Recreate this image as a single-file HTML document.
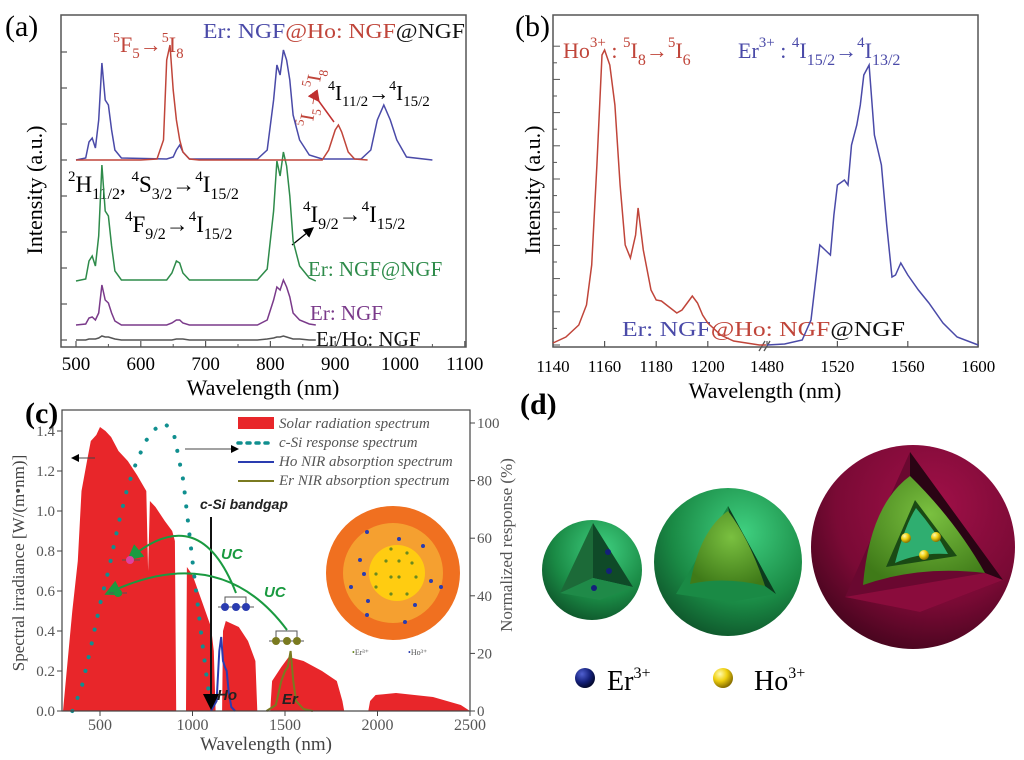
<!DOCTYPE html>
<html><head><meta charset="utf-8"><style>
html,body{margin:0;padding:0;background:#fff;}
svg{display:block;font-family:"Liberation Serif",serif;}
.sans{font-family:"Liberation Sans",sans-serif;}
</style></head><body>
<svg id="fig" width="1024" height="760" viewBox="0 0 1024 760">
<defs>
<radialGradient id="gGreen" cx="0.6" cy="0.3" r="0.8"><stop offset="0" stop-color="#3fd080"/><stop offset="0.6" stop-color="#1a8a45"/><stop offset="1" stop-color="#0c4a25"/></radialGradient>
<radialGradient id="gCore" cx="0.55" cy="0.35" r="0.7"><stop offset="0" stop-color="#7ac040"/><stop offset="1" stop-color="#3f7a18"/></radialGradient>
<radialGradient id="gRed" cx="0.6" cy="0.3" r="0.8"><stop offset="0" stop-color="#a01048"/><stop offset="0.6" stop-color="#7a0a35"/><stop offset="1" stop-color="#3a0418"/></radialGradient>
<radialGradient id="gYel" cx="0.35" cy="0.3" r="0.7"><stop offset="0" stop-color="#fffbb0"/><stop offset="0.5" stop-color="#f0d010"/><stop offset="1" stop-color="#8a7000"/></radialGradient>
<radialGradient id="gBlue" cx="0.35" cy="0.3" r="0.7"><stop offset="0" stop-color="#5060d0"/><stop offset="0.6" stop-color="#14207a"/><stop offset="1" stop-color="#050a30"/></radialGradient>
<marker id="ah" markerWidth="8" markerHeight="8" refX="7" refY="4" orient="auto"><path d="M0,0 L8,4 L0,8 z" fill="#000"/></marker>
<marker id="ahg" markerWidth="8" markerHeight="8" refX="6" refY="4" orient="auto"><path d="M0,0 L8,4 L0,8 z" fill="#1a9a40"/></marker>
<marker id="ahr" markerWidth="8" markerHeight="8" refX="6" refY="4" orient="auto"><path d="M0,0 L8,4 L0,8 z" fill="#c03030"/></marker>
</defs>

<!-- ===== Panel A ===== -->
<g id="pa">
<text x="5" y="36" font-size="30">(a)</text>
<rect x="61" y="15" width="405" height="332" fill="none" stroke="#555" stroke-width="1.5"/>
<text x="263" y="395" font-size="22" text-anchor="middle">Wavelength (nm)</text>
<text transform="translate(42,190) rotate(-90)" font-size="22" text-anchor="middle">Intensity (a.u.)</text>
<text x="203" y="38" font-size="21" textLength="262" lengthAdjust="spacingAndGlyphs"><tspan fill="#4a4aa8">Er: NGF</tspan><tspan fill="#c0453a">@Ho: NGF</tspan><tspan fill="#111">@NGF</tspan></text>
<text x="113" y="52" fill="#c0453a" font-size="22"><tspan font-size="14" dy="-10">5</tspan><tspan dy="10">F</tspan><tspan font-size="15" dy="6">5</tspan><tspan dy="-6">→</tspan><tspan font-size="14" dy="-10">5</tspan><tspan dy="10">I</tspan><tspan font-size="15" dy="6">8</tspan></text>
<text transform="translate(312,128) rotate(-80)" fill="#c0453a" font-size="20"><tspan font-size="13" dy="-9">5</tspan><tspan dy="9">I</tspan><tspan font-size="13" dy="6">5</tspan><tspan dy="-6">→</tspan><tspan font-size="13" dy="-9">5</tspan><tspan dy="9">I</tspan><tspan font-size="13" dy="6">8</tspan></text>
<line x1="318" y1="100" x2="334" y2="122" stroke="#c03030" stroke-width="1.5" marker-start="url(#ahr)"/>
<text x="328" y="100" font-size="21"><tspan font-size="14" dy="-10">4</tspan><tspan dy="10">I</tspan><tspan font-size="15" dy="6">11/2</tspan><tspan dy="-6">→</tspan><tspan font-size="14" dy="-10">4</tspan><tspan dy="10">I</tspan><tspan font-size="15" dy="6">15/2</tspan></text>
<text x="68" y="192" font-size="23"><tspan font-size="15" dy="-11">2</tspan><tspan dy="11">H</tspan><tspan font-size="16" dy="7">11/2</tspan><tspan dy="-7">, </tspan><tspan font-size="15" dy="-11">4</tspan><tspan dy="11">S</tspan><tspan font-size="16" dy="7">3/2</tspan><tspan dy="-7">→</tspan><tspan font-size="15" dy="-11">4</tspan><tspan dy="11">I</tspan><tspan font-size="16" dy="7">15/2</tspan></text>
<text x="125" y="232" font-size="23"><tspan font-size="15" dy="-11">4</tspan><tspan dy="11">F</tspan><tspan font-size="16" dy="7">9/2</tspan><tspan dy="-7">→</tspan><tspan font-size="15" dy="-11">4</tspan><tspan dy="11">I</tspan><tspan font-size="16" dy="7">15/2</tspan></text>
<text x="303" y="222" font-size="23"><tspan font-size="15" dy="-11">4</tspan><tspan dy="11">I</tspan><tspan font-size="16" dy="7">9/2</tspan><tspan dy="-7">→</tspan><tspan font-size="15" dy="-11">4</tspan><tspan dy="11">I</tspan><tspan font-size="16" dy="7">15/2</tspan></text>
<line x1="292" y1="245" x2="313" y2="228" stroke="#000" stroke-width="1.3" marker-end="url(#ah)"/>
<text x="308" y="276" font-size="21" fill="#2e8b4a">Er: NGF@NGF</text>
<text x="310" y="320" font-size="21" fill="#7a3a8a">Er: NGF</text>
<text x="316" y="346" font-size="21" fill="#111">Er/Ho: NGF</text>
<g id="paAxes"></g><g id="paCurves"></g>
</g>

<!-- ===== Panel B ===== -->
<g id="pb">
<text x="515" y="36" font-size="30">(b)</text>
<rect x="553" y="15" width="425" height="332" fill="none" stroke="#555" stroke-width="1.5"/>
<text x="765" y="398" font-size="22" text-anchor="middle">Wavelength (nm)</text>
<text transform="translate(540,190) rotate(-90)" font-size="22" text-anchor="middle">Intensity (a.u.)</text>
<text x="563" y="58" font-size="22" fill="#c0453a">Ho<tspan font-size="15" dy="-11">3+</tspan><tspan dy="11"> : </tspan><tspan font-size="15" dy="-11">5</tspan><tspan dy="11">I</tspan><tspan font-size="16" dy="7">8</tspan><tspan dy="-7">→</tspan><tspan font-size="15" dy="-11">5</tspan><tspan dy="11">I</tspan><tspan font-size="16" dy="7">6</tspan></text>
<text x="738" y="58" font-size="22" fill="#4a4aa8">Er<tspan font-size="15" dy="-11">3+</tspan><tspan dy="11"> : </tspan><tspan font-size="15" dy="-11">4</tspan><tspan dy="11">I</tspan><tspan font-size="16" dy="7">15/2</tspan><tspan dy="-7">→</tspan><tspan font-size="15" dy="-11">4</tspan><tspan dy="11">I</tspan><tspan font-size="16" dy="7">13/2</tspan></text>
<text x="622" y="336" font-size="21" textLength="283" lengthAdjust="spacingAndGlyphs"><tspan fill="#4a4aa8">Er: NGF</tspan><tspan fill="#c0453a">@Ho: NGF</tspan><tspan fill="#111">@NGF</tspan></text>
<g id="pbAxes"></g><g id="pbCurves"></g>
</g>

<!-- ===== Panel C ===== -->
<g id="pc">
<g id="pcCurves"></g>
<text x="25" y="423" font-size="30" font-weight="bold">(c)</text>
<rect x="62" y="410" width="408" height="301" fill="none" stroke="#444" stroke-width="1.2"/>
<text x="266" y="750" font-size="19" text-anchor="middle" fill="#444">Wavelength (nm)</text>
<text transform="translate(24,563) rotate(-90)" font-size="17" text-anchor="middle" fill="#444">Spectral irradiance [W/(m•nm)]</text>
<text transform="translate(512,545) rotate(-90)" font-size="17" text-anchor="middle" fill="#555">Normalized response (%)</text>
<g id="pcAxes"></g>
<g>
<rect x="238" y="417" width="36" height="12" fill="#e8262a"/>
<text x="279" y="428" font-size="15" font-style="italic" fill="#555">Solar radiation spectrum</text>
<line x1="238" y1="443" x2="274" y2="443" stroke="#108f8f" stroke-width="3.5" stroke-dasharray="3,6" stroke-linecap="round"/>
<text x="279" y="447" font-size="15" font-style="italic" fill="#555">c-Si response spectrum</text>
<line x1="238" y1="462" x2="274" y2="462" stroke="#2a3cb0" stroke-width="2"/>
<text x="279" y="466" font-size="15" font-style="italic" fill="#555">Ho NIR absorption spectrum</text>
<line x1="238" y1="481" x2="274" y2="481" stroke="#7a7a20" stroke-width="2"/>
<text x="279" y="485" font-size="15" font-style="italic" fill="#555">Er NIR absorption spectrum</text>
</g>
<line x1="95" y1="458" x2="72" y2="458" stroke="#444" stroke-width="1" marker-end="url(#ah)"/>
<line x1="185" y1="449" x2="238" y2="449" stroke="#444" stroke-width="1" marker-end="url(#ah)"/>
<line x1="211" y1="517" x2="211" y2="708" stroke="#111" stroke-width="2" marker-end="url(#ah)"/>
<text x="200" y="509" font-size="14" font-weight="bold" font-style="italic" class="sans" fill="#222">c-Si bandgap</text>
<path d="M236,593 Q200,500 130,558" fill="none" stroke="#1a9a40" stroke-width="2" marker-end="url(#ahg)"/>
<path d="M287,630 Q220,540 108,593" fill="none" stroke="#1a9a40" stroke-width="2" marker-end="url(#ahg)"/>
<text x="221" y="559" font-size="15" font-weight="bold" font-style="italic" class="sans" fill="#1a9a40">UC</text>
<text x="264" y="597" font-size="15" font-weight="bold" font-style="italic" class="sans" fill="#1a9a40">UC</text>
<line x1="122" y1="560" x2="140" y2="560" stroke="#555"/>
<circle cx="130" cy="560" r="4" fill="#e040a0"/>
<line x1="109" y1="593" x2="127" y2="593" stroke="#555"/>
<circle cx="118" cy="593" r="4" fill="#1a9a40"/>
<path d="M225,603 V597 H246 V603 M218,607 H254" fill="none" stroke="#555"/>
<circle cx="225" cy="607" r="4" fill="#2a3cb0"/><circle cx="236" cy="607" r="4" fill="#2a3cb0"/><circle cx="246" cy="607" r="4" fill="#2a3cb0"/>
<path d="M276,637 V631 H297 V637 M269,641 H304" fill="none" stroke="#555"/>
<circle cx="276" cy="641" r="4" fill="#7a7a20"/><circle cx="287" cy="641" r="4" fill="#7a7a20"/><circle cx="297" cy="641" r="4" fill="#7a7a20"/>
<text x="217" y="700" font-size="15" font-weight="bold" font-style="italic" class="sans" fill="#222">Ho</text>
<text x="282" y="704" font-size="15" font-weight="bold" font-style="italic" class="sans" fill="#222">Er</text>
<g>
<circle cx="393" cy="573" r="67" fill="#f07020"/>
<circle cx="393" cy="573" r="50" fill="#f5a030"/>
<circle cx="397" cy="573" r="28" fill="#ffcc11"/>
<g fill="#2a3cb0"><circle cx="367" cy="532" r="2"/><circle cx="399" cy="539" r="2"/><circle cx="423" cy="546" r="2"/><circle cx="360" cy="560" r="2"/><circle cx="364" cy="574" r="2"/><circle cx="431" cy="581" r="2"/><circle cx="351" cy="587" r="2"/><circle cx="441" cy="587" r="2"/><circle cx="368" cy="601" r="2"/><circle cx="415" cy="605" r="2"/><circle cx="367" cy="615" r="2"/><circle cx="405" cy="622" r="2"/></g>
<g fill="#6a8a20"><circle cx="391" cy="549" r="1.6"/><circle cx="407" cy="553" r="1.6"/><circle cx="386" cy="561" r="1.6"/><circle cx="399" cy="561" r="1.6"/><circle cx="412" cy="563" r="1.6"/><circle cx="376" cy="574" r="1.6"/><circle cx="391" cy="577" r="1.6"/><circle cx="399" cy="577" r="1.6"/><circle cx="416" cy="577" r="1.6"/><circle cx="376" cy="587" r="1.6"/><circle cx="391" cy="594" r="1.6"/><circle cx="407" cy="594" r="1.6"/></g>
<text x="352" y="655" font-size="8" fill="#555"><tspan fill="#6a8a20">•</tspan>Er³⁺</text>
<text x="408" y="655" font-size="8" fill="#555"><tspan fill="#2a3cb0">•</tspan>Ho³⁺</text>
</g>
</g>

<!-- ===== Panel D ===== -->
<g id="pd">
<text x="520" y="414" font-size="30" font-weight="bold">(d)</text>
<g>
<circle cx="592" cy="570" r="50" fill="url(#gGreen)"/>
<polygon points="560,593 593,523 593,578" fill="#1c6a38"/>
<polygon points="593,523 633,587 593,578" fill="#0f4a28"/>
<polygon points="560,593 593,578 633,587 600,600" fill="#1f8a48"/>
<circle cx="608" cy="552" r="3" fill="#14207a"/><circle cx="609" cy="571" r="3" fill="#14207a"/><circle cx="594" cy="588" r="3" fill="#14207a"/>
</g>
<g>
<circle cx="728" cy="562" r="74" fill="url(#gGreen)"/>
<polygon points="676,594 728,506 776,594 730,602" fill="#1a8a45"/>
<polygon points="728,506 776,594 765,586 730,518" fill="#0c3a1e"/>
<path d="M690,584 Q700,530 728,511 Q750,540 765,586 Q725,576 690,584 z" fill="url(#gCore)"/>
</g>
<g>
<circle cx="913" cy="547" r="102" fill="url(#gRed)"/>
<polygon points="845,597 910,452 1003,580 920,612" fill="#6a0830"/>
<polygon points="910,452 1003,580 985,573 910,480" fill="#2a0414"/>
<polygon points="845,597 985,573 1003,580 920,612" fill="#8a0c3c"/>
<path d="M863,585 Q870,505 910,476 Q955,520 985,573 Q920,565 863,585 z" fill="url(#gCore)"/>
<polygon points="886,567 915,500 957,556" fill="#1a4a14"/>
<path d="M895,563 Q905,525 916,508 Q935,530 948,554 Q920,552 895,563 z" fill="#2fae70"/>
<circle cx="906" cy="538" r="5" fill="url(#gYel)"/><circle cx="936" cy="537" r="5" fill="url(#gYel)"/><circle cx="924" cy="555" r="5" fill="url(#gYel)"/>
</g>
<circle cx="585" cy="678" r="10" fill="url(#gBlue)"/>
<text x="607" y="690" font-size="28">Er<tspan font-size="16" dy="-12">3+</tspan></text>
<circle cx="723" cy="678" r="10" fill="url(#gYel)"/>
<text x="754" y="690" font-size="28">Ho<tspan font-size="16" dy="-12">3+</tspan></text>
</g>
</svg>
<script>
// ---------- data: panel a ----------
const aBlueW=[500,515,520,525,530,535,540,545,550,555,560,570,640,650,655,660,665,675,780,795,805,810,815,820,825,830,835,845,860,880,940,955,965,975,985,995,1010,1050];
const aBlueV=[0,2,18,22,12,40,97,60,55,30,10,2,1,3,10,15,8,1,1,10,60,95,85,110,100,80,45,20,5,1,1,10,40,55,40,20,3,0];
const aRedW=[500,600,625,635,640,645,650,655,660,665,675,690,880,890,900,905,910,920,930,950];
const aRedV=[0,0,1,20,100,115,70,40,20,8,1,0,0,10,30,35,28,8,1,0];
const aGreenW=[500,515,520,525,530,535,540,545,550,555,560,570,640,648,655,660,665,675,780,795,805,810,815,820,825,830,835,845,860,870];
const aGreenV=[0,2,20,25,15,45,116,70,65,35,10,1,1,8,20,18,8,1,1,12,70,120,105,129,115,85,40,15,3,0];
const aPurpleV=[0,1,7,8,5,12,40,25,22,12,4,0,0,2,5,5,2,0,0,5,25,38,35,45,38,28,12,5,1,0];
const aBlackV=[0,0,1,1,1,2,4,3,3,2,1,0,0,0,1,1,1,0,0,1,2,3,3,4,3,2,1,1,0,0];
const aXTicks=[500,600,700,800,900,1000,1100];
// ---------- data: panel b ----------
const bRedW=[1140,1145,1150,1153,1155,1157,1159,1160,1162,1164,1166,1168,1170,1172,1173,1175,1178,1180,1182,1185,1188,1190,1192,1194,1196,1198,1200,1205,1210,1220];
const bRedV=[2,8,20,40,80,180,290,295,280,240,160,100,87,110,137,95,55,45,44,38,32,35,42,49,42,30,22,10,4,0];
const bBlueW=[1480,1490,1500,1505,1508,1510,1513,1516,1518,1520,1524,1526,1528,1531,1533,1535,1538,1541,1545,1548,1551,1553,1556,1560,1566,1572,1580,1588,1600];
const bBlueV=[0,1,5,25,70,100,95,90,130,160,165,160,200,220,240,270,280,210,180,120,68,70,82,70,55,42,22,8,0];
const bXTicks=[1140,1160,1180,1200,1480,1520,1560,1600];
// ---------- data: panel c ----------
const solarW=[300,320,350,380,400,430,450,480,500,530,560,600,650,700,750,760,770,800,850,890,905,912,965,970,1000,1050,1100,1115,1125,1160,1165,1180,1250,1300,1340,1350,1420,1430,1480,1520,1600,1700,1780,1810,1820,1950,1960,1990,2100,2300,2450,2500];
const solarV=[0,0.2,0.5,0.75,1.1,1.25,1.35,1.38,1.42,1.4,1.37,1.3,1.25,1.18,1.1,0.7,1.05,1.02,0.95,0.9,0.85,0,0,0.72,0.68,0.55,0.42,0.3,0,0,0.4,0.45,0.42,0.35,0.25,0,0,0.15,0.22,0.27,0.25,0.2,0.15,0.05,0,0,0.05,0.08,0.09,0.07,0.03,0];
const csiW=[350,400,450,500,550,600,650,700,750,800,850,900,950,1000,1050,1080,1100];
const csiV=[0,8,22,37,50,65,78,87,94,98,100,96,80,52,25,10,2];
const hoW=[1100,1130,1145,1155,1165,1175,1185,1195,1210,1230];
const hoV=[0,0.05,0.3,0.37,0.25,0.22,0.2,0.1,0.02,0];
const erW=[1400,1450,1480,1500,1515,1530,1545,1560,1600,1650];
const erV=[0,0.03,0.15,0.2,0.22,0.3,0.15,0.05,0.01,0];
const cXTicks=[500,1000,1500,2000,2500];
const cYTicks=[0,0.2,0.4,0.6,0.8,1.0,1.2,1.4];
const cRTicks=[0,20,40,60,80,100];

const NS='http://www.w3.org/2000/svg';
function mk(tag,attrs,parent){const e=document.createElementNS(NS,tag);for(const k in attrs)e.setAttribute(k,attrs[k]);parent.appendChild(e);return e;}
function pathD(ws,vs,fx,fy){return ws.map((w,i)=>(i?'L':'M')+fx(w).toFixed(1)+','+fy(vs[i]).toFixed(1)).join(' ');}

const xa=w=>76+(w-500)*0.648;
const xb=w=>w<=1300?553+(w-1140)*2.58:767+(w-1480)*1.76;
const yb=v=>345-v;
const xc=w=>63+(w-300)*0.185;
const ycL=v=>711-v*200;
const ycR=p=>711-p*2.88;

const paAx=document.getElementById('paAxes');
aXTicks.forEach(t=>{
  const l=mk('line',{x1:xa(t),x2:xa(t),y1:347,y2:341,stroke:'#555','stroke-width':1.2},paAx);
  
  
  const tx=mk('text',{x:xa(t),y:370,'font-size':19,'text-anchor':'middle'},paAx);
  tx.textContent=t;
  
  
  if(t<1100){const m=mk('line',{x1:xa(t+50),x2:xa(t+50),y1:347,y2:344,stroke:'#555'},paAx);
  
  }
});
for(let i=0;i<9;i++){const y=340-36*i;
  const l=mk('line',{x1:61,x2:67,y1:y,y2:y,stroke:'#555','stroke-width':1.2},paAx);
  
  }
const paC=document.getElementById('paCurves');
[[aBlackV,aGreenW,340,'#555','black'],[aPurpleV,aGreenW,325,'#7a3a8a','purple'],[aGreenV,aGreenW,281,'#2e8b4a','green'],[aBlueV,aBlueW,160,'#4a4aa8','blue'],[aRedV,aRedW,160,'#c0453a','red']].forEach(s=>{
  const base=s[2];
  const p=mk('path',{d:pathD(s[1],s[0],xa,v=>base-v),fill:'none',stroke:s[3],'stroke-width':1.5},paC);
  
  
});

const pbAx=document.getElementById('pbAxes');
bXTicks.forEach(t=>{
  const l=mk('line',{x1:xb(t),x2:xb(t),y1:347,y2:341,stroke:'#555','stroke-width':1.2},pbAx);
  
  
  const tx=mk('text',{x:xb(t),y:372,'font-size':17,'text-anchor':'middle'},pbAx);
  tx.textContent=t;
  
  
});
for(let i=0;i<19;i++){const y=345-16.6*i;
  const l=mk('line',{x1:553,x2:i%2?557:560,y1:y,y2:y,stroke:'#555'},pbAx);
  
  }
const brk=mk('path',{d:'M759,351 L765,341 M764,351 L770,341',stroke:'#555',fill:'none','stroke-width':1.3},pbAx);


const pbC=document.getElementById('pbCurves');
const pr=mk('path',{d:pathD(bRedW,bRedV,xb,yb)+' L766,345',fill:'none',stroke:'#c0453a','stroke-width':1.5},pbC);


const pbl=mk('path',{d:pathD(bBlueW,bBlueV,xb,yb),fill:'none',stroke:'#4a4aa8','stroke-width':1.5},pbC);



const pcC=document.getElementById('pcCurves');
const sol=mk('path',{d:pathD(solarW,solarV,xc,ycL)+' Z',fill:'#e8262a',stroke:'none'},pcC);


const cs=mk('path',{d:pathD(csiW,csiV,xc,ycR),fill:'none',stroke:'#108f8f','stroke-width':4,'stroke-dasharray':'0.1,14','stroke-linecap':'round'},pcC);


const ho=mk('path',{d:pathD(hoW,hoV,xc,ycL),fill:'none',stroke:'#2a3cb0','stroke-width':2},pcC);


const er=mk('path',{d:pathD(erW,erV,xc,ycL),fill:'none',stroke:'#7a7a20','stroke-width':2},pcC);


const pcAx=document.getElementById('pcAxes');
cXTicks.forEach(t=>{
  const l=mk('line',{x1:xc(t),x2:xc(t),y1:711,y2:716,stroke:'#444'},pcAx);
  
  
  const tx=mk('text',{x:xc(t),y:730,'font-size':16,'text-anchor':'middle',fill:'#555'},pcAx);
  tx.textContent=t;
  
  
});
cYTicks.forEach(t=>{
  const l=mk('line',{x1:57,x2:62,y1:ycL(t),y2:ycL(t),stroke:'#444'},pcAx);
  
  
  const tx=mk('text',{x:55,y:ycL(t)+5,'font-size':15,'text-anchor':'end',fill:'#555'},pcAx);
  tx.textContent=t.toFixed(1);
  
  
});
cRTicks.forEach(t=>{
  const l=mk('line',{x1:470,x2:475,y1:ycR(t),y2:ycR(t),stroke:'#444'},pcAx);
  
  
  const tx=mk('text',{x:477,y:ycR(t)+5,'font-size':15,fill:'#555'},pcAx);
  tx.textContent=t;
  
  
});
</script>
</body></html>
